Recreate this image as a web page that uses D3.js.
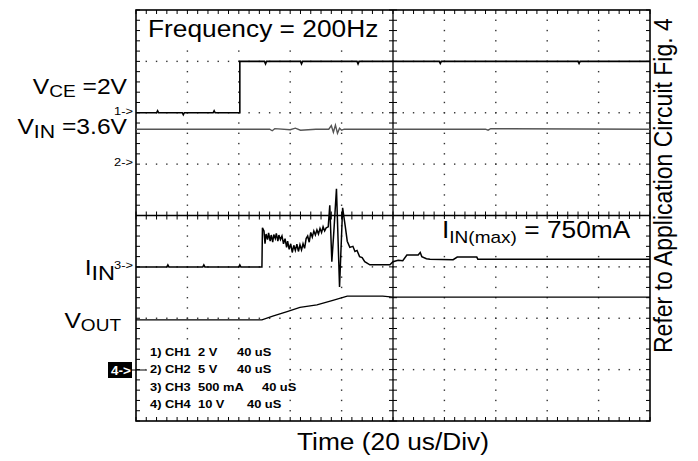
<!DOCTYPE html>
<html>
<head>
<meta charset="utf-8">
<script src="https://cdn.jsdelivr.net/npm/d3@7"></script>
<style>
  body { margin: 0; background: #fff; }
  text { font-family: "Liberation Sans", Arial, sans-serif; fill: #000; }
</style>
</head>
<body>
<div id="chart"></div>
<script>
// Kurven in Skalenteilen: [Zeit (Div), Pegel (Div, 0 = Mitte)]
const ch1 = [[0, 2.0], [0.4, 2.0], [0.42, 2.04], [0.44, 2.0], [0.9, 2.0], [0.92, 1.96], [0.94, 2.0],
  [1.5, 2.0], [1.52, 2.04], [1.54, 2.0], [2.02, 2.0], [2.02, 3.0], [2.5, 3.0], [2.52, 2.95], [2.54, 3.0],
  [3.2, 3.0], [3.22, 2.95], [3.24, 3.0], [4.3, 3.0], [4.32, 2.95], [4.34, 3.0], [5.9, 3.0], [5.92, 2.96],
  [5.94, 3.0], [8.6, 3.0], [8.62, 2.96], [8.64, 3.0], [10, 3.0]];

const ch2 = [[0, 1.68], [2.6, 1.68], [2.65, 1.65], [2.7, 1.69], [3.0, 1.67], [3.1, 1.70], [3.2, 1.66],
  [3.5, 1.68], [3.75, 1.68], [3.80, 1.75], [3.84, 1.62], [3.88, 1.76], [3.92, 1.60], [3.96, 1.70],
  [4.00, 1.66], [4.05, 1.68], [6.8, 1.68], [6.85, 1.66], [6.9, 1.69], [10, 1.68]];

const ch3 = [[0, -1.0], [0.6, -1.0], [0.62, -0.96], [0.64, -1.0], [1.3, -1.0], [1.32, -0.96], [1.34, -1.0],
  [2.0, -1.0], [2.02, -0.96], [2.04, -1.0], [2.45, -1.0], [2.46, -0.24], [2.49, -0.30], [2.51, -0.55],
  [2.53, -0.36], [2.56, -0.47], [2.58, -0.34], [2.61, -0.50], [2.63, -0.38], [2.66, -0.52], [2.68, -0.37],
  [2.71, -0.45], [2.73, -0.35], [2.76, -0.50], [2.78, -0.38], [2.81, -0.47], [2.84, -0.40], [2.87, -0.55],
  [2.90, -0.45], [2.93, -0.62], [2.95, -0.50], [2.98, -0.66], [3.01, -0.55], [3.04, -0.72], [3.07, -0.58],
  [3.10, -0.68], [3.13, -0.56], [3.16, -0.70], [3.19, -0.57], [3.22, -0.67], [3.25, -0.55], [3.28, -0.64],
  [3.31, -0.45], [3.34, -0.40], [3.37, -0.52], [3.40, -0.33], [3.43, -0.42], [3.46, -0.30], [3.49, -0.38],
  [3.52, -0.28], [3.55, -0.36], [3.58, -0.25], [3.61, -0.33], [3.64, -0.22], [3.67, -0.30], [3.70, -0.24],
  [3.74, -0.22], [3.77, 0.20], [3.81, -0.90], [3.85, -0.30], [3.90, 0.52], [3.96, -1.39], [4.02, 0.15],
  [4.07, -0.20], [4.11, -0.50], [4.16, -0.62], [4.22, -0.60], [4.26, -0.70], [4.30, -0.68], [4.35, -0.80],
  [4.40, -0.82], [4.45, -0.90], [4.55, -0.96], [4.94, -0.96], [5.00, -0.90], [5.10, -0.87], [5.19, -0.88],
  [5.27, -0.77], [5.49, -0.77], [5.53, -0.72], [5.56, -0.80], [5.65, -0.84], [5.72, -0.85], [6.17, -0.86],
  [6.25, -0.81], [6.63, -0.81], [6.65, -0.85], [10, -0.85]];

const ch4 = [[0, -2.03], [2.45, -2.03], [2.66, -1.96], [2.94, -1.87], [3.19, -1.79], [3.52, -1.74],
  [3.83, -1.65], [4.11, -1.57], [4.8, -1.57], [5.0, -1.59], [10, -1.59]];

// Beschriftungen
const legendRows = [
  ["1) CH1", "2 V", "40 uS"],
  ["2) CH2", "5 V", "40 uS"],
  ["3) CH3", "500 mA", "40 uS"],
  ["4) CH4", "10 V", "40 uS"]
];
const markerLabels = [["1->", 2.0], ["2->", 1.0], ["3->", -1.0]];

// Layout
const width = 698, height = 461;
const plot = {left: 136, right: 650, top: 10, bottom: 421};
const stretch = 1.12; // Schrift ist im Original etwas breit gezogen

const svg = d3.select("#chart").append("svg")
  .attr("width", width)
  .attr("height", height);

const x = d3.scaleLinear().domain([0, 10]).range([plot.left, plot.right]);
const y = d3.scaleLinear().domain([-4, 4]).range([plot.bottom, plot.top]);

const minorX = d3.range(0, 51).map(i => i * 0.2);
const minorY = d3.range(0, 41).map(i => -4 + i * 0.2);

// Rasterpunkte
const grid = svg.append("g").attr("fill", "#333");
[1, 2, 3, 4, 6, 7, 8, 9].forEach(k => {
  grid.selectAll(null).data(minorY.slice(1, -1)).enter().append("rect")
    .attr("x", x(k) - 0.7).attr("y", d => y(d) - 0.7)
    .attr("width", 1.4).attr("height", 1.4);
});
[-3, -2, -1, 1, 2, 3].forEach(k => {
  grid.selectAll(null).data(minorX.slice(1, -1)).enter().append("rect")
    .attr("x", d => x(d) - 0.7).attr("y", y(k) - 0.7)
    .attr("width", 1.4).attr("height", 1.4);
});

// Teilstriche
const ticks = svg.append("g").attr("stroke", "#000").attr("stroke-width", 1);
const tl = 4;
ticks.selectAll(".tt").data(minorX).enter().append("line")
  .attr("x1", d => x(d)).attr("x2", d => x(d)).attr("y1", plot.top).attr("y2", plot.top + tl);
ticks.selectAll(".tb").data(minorX).enter().append("line")
  .attr("x1", d => x(d)).attr("x2", d => x(d)).attr("y1", plot.bottom).attr("y2", plot.bottom - tl);
ticks.selectAll(".tc").data(minorX).enter().append("line")
  .attr("x1", d => x(d)).attr("x2", d => x(d)).attr("y1", y(0) - tl).attr("y2", y(0) + tl);
ticks.selectAll(".tl").data(minorY).enter().append("line")
  .attr("y1", d => y(d)).attr("y2", d => y(d)).attr("x1", plot.left).attr("x2", plot.left + tl);
ticks.selectAll(".tr").data(minorY).enter().append("line")
  .attr("y1", d => y(d)).attr("y2", d => y(d)).attr("x1", plot.right).attr("x2", plot.right - tl);
ticks.selectAll(".tm").data(minorY).enter().append("line")
  .attr("y1", d => y(d)).attr("y2", d => y(d)).attr("x1", x(5) - tl).attr("x2", x(5) + tl);

// Mittellinien und Rahmen
svg.append("line").attr("x1", x(5)).attr("x2", x(5)).attr("y1", plot.top).attr("y2", plot.bottom)
  .attr("stroke", "#000").attr("stroke-width", 1.3);
svg.append("line").attr("x1", plot.left).attr("x2", plot.right).attr("y1", y(0)).attr("y2", y(0))
  .attr("stroke", "#000").attr("stroke-width", 1.3);
svg.append("rect")
  .attr("x", plot.left).attr("y", plot.top)
  .attr("width", plot.right - plot.left).attr("height", plot.bottom - plot.top)
  .attr("fill", "none").attr("stroke", "#000").attr("stroke-width", 1.6);

// Kurven
const line = d3.line().x(d => x(d[0])).y(d => y(d[1]));
svg.append("path").datum(ch2).attr("d", line)
  .attr("fill", "none").attr("stroke", "#555").attr("stroke-width", 1.4);
svg.append("path").datum(ch1).attr("d", line)
  .attr("fill", "none").attr("stroke", "#000").attr("stroke-width", 1.6);
svg.append("path").datum(ch4).attr("d", line)
  .attr("fill", "none").attr("stroke", "#000").attr("stroke-width", 1.3);
svg.append("path").datum(ch3).attr("d", line)
  .attr("fill", "none").attr("stroke", "#000").attr("stroke-width", 1.5);

// Text-Helfer (horizontal gestreckt)
function label(px, py, size, anchor) {
  return svg.append("g")
    .attr("transform", `translate(${px},${py}) scale(${stretch},1)`)
    .append("text")
    .attr("text-anchor", anchor || "start")
    .style("font-size", size + "px");
}

// Frequenz-Kasten
svg.append("rect").attr("x", 141).attr("y", 14).attr("width", 245).attr("height", 32).attr("fill", "#fff");
label(148, 37, 23.5).text("Frequency = 200Hz");

// Strom-Kasten
svg.append("rect").attr("x", 437).attr("y", 219).attr("width", 205).attr("height", 30).attr("fill", "#fff");
const imax = label(442, 238, 23.5);
imax.append("tspan").text("I");
imax.append("tspan").attr("dy", 5).style("font-size", "17px").text("IN(max)");
imax.append("tspan").attr("dy", -5).text(" = 750mA");

// Kanalbezeichnungen links
function subLabel(px, py, main, sub, rest, subSize, dy) {
  const t = label(px, py, 22, "end");
  t.append("tspan").text(main);
  t.append("tspan").attr("dy", dy).style("font-size", subSize + "px").text(sub);
  if (rest) t.append("tspan").attr("dy", -dy).text(rest);
}
subLabel(127, 94, "V", "CE", " =2V", 17, 3);
subLabel(127, 134, "V", "IN", " =3.6V", 19, 4);
subLabel(115, 275, "I", "IN", null, 21, 5);
subLabel(121, 328, "V", "OUT", null, 17, 3);

markerLabels.forEach(d => {
  label(133, y(d[1]) + 2, 11.5, "end").text(d[0]);
});

// Legende unten links
svg.append("rect").attr("x", 146).attr("y", 344).attr("width", 138).attr("height", 68).attr("fill", "#fff");
const colX = [[150, 198, 237], [150, 198, 237], [150, 198, 262], [150, 198, 247]];
legendRows.forEach((row, i) => {
  row.forEach((s, j) => {
    label(colX[i][j], 356 + i * 17.3, 11.5).style("font-weight", "bold").text(s);
  });
});

// Marker Kanal 4
svg.append("line").attr("x1", 130).attr("x2", 147).attr("y1", 370).attr("y2", 370)
  .attr("stroke", "#000").attr("stroke-width", 1);
svg.append("rect").attr("x", 108).attr("y", 362).attr("width", 24).attr("height", 16).attr("fill", "#000");
label(111, 374.5, 12).style("font-weight", "bold").style("fill", "#fff").text("4->");

// Achsentitel
label(393, 450, 23.5, "middle").text("Time (20 us/Div)");

// Hinweis rechts, gedreht
svg.append("text")
  .attr("transform", `translate(672,353) rotate(-90) scale(1,${stretch})`)
  .style("font-size", "23px")
  .text("Refer to Application Circuit Fig. 4");
</script>
</body>
</html>
